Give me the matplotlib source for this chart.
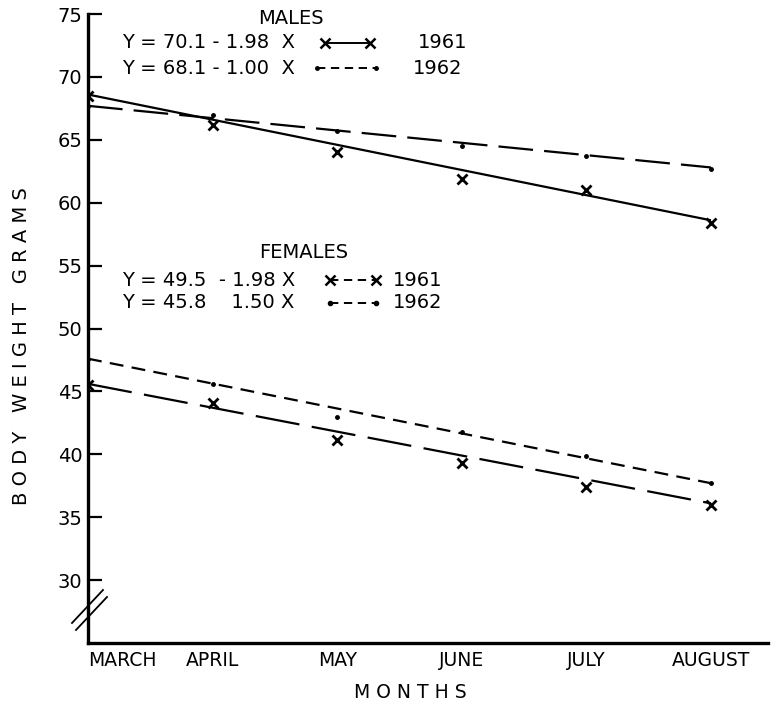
import matplotlib
matplotlib.use("Agg")
import matplotlib.pyplot as plt
from matplotlib.lines import Line2D

plt.rcParams['font.family'] = ['DejaVu Sans']
plt.rcParams['lines.scale_dashes'] = False

# ---- data ----
months = ['MARCH', 'APRIL', 'MAY', 'JUNE', 'JULY', 'AUGUST']
males_1961 = [68.5, 66.2, 64.0, 61.9, 61.0, 58.4]
males_1962 = [67.7, 67.0, 65.7, 64.5, 63.7, 62.7]
females_1961 = [45.5, 44.1, 41.1, 39.3, 37.4, 36.0]
females_1962 = [47.6, 45.6, 43.0, 41.8, 39.9, 37.7]

# fitted lines: values at March and August as drawn
males_1961_fit = [68.6, 58.6]
males_1962_fit = [67.7, 62.8]
females_1961_fit = [45.6, 36.1]
females_1962_fit = [47.6, 37.7]

yticks = [30, 35, 40, 45, 50, 55, 60, 65, 70, 75]

males_title = 'MALES'
males_eq = ['Y = 70.1 - 1.98  X', 'Y = 68.1 - 1.00  X']
females_title = 'FEMALES'
females_eq = ['Y = 49.5  - 1.98 X', 'Y = 45.8    1.50 X']
years = ['1961', '1962']

W, H = 778, 712
fig = plt.figure(figsize=(W / 100, H / 100), dpi=100)


def fx(px):
    return px / W


def fy(py):
    return 1 - py / H


ax = fig.add_axes([fx(88), fy(643), fx(768) - fx(88), fy(14) - fy(643)])
x = list(range(len(months)))
xe = [x[0], x[-1]]

lw = 1.6
# males 1961: solid, x markers
ax.plot(xe, males_1961_fit, color='black', lw=lw, solid_capstyle='butt')
ax.plot(x, males_1961, ls='none', marker='x', ms=7, mew=2, color='black')
# males 1962: long dashes, dots
ax.plot(xe, males_1962_fit, color='black', lw=lw, dashes=(25, 8))
ax.plot(x, males_1962, ls='none', marker='o', ms=2.5, color='black')
# females 1961: long broken line, x markers
ax.plot(xe, females_1961_fit, color='black', lw=lw, dashes=(32, 9))
ax.plot(x, females_1961, ls='none', marker='x', ms=7, mew=2, color='black')
# females 1962: short dashes, dots
ax.plot(xe, females_1962_fit, color='black', lw=lw, dashes=(10, 6))
ax.plot(x, females_1962, ls='none', marker='o', ms=2.5, color='black')

ax.set_xlim(0, (768 - 88) / 124.6)
ax.set_ylim(25, 75)
ax.set_yticks(yticks)
ax.set_yticklabels([str(t) for t in yticks], fontsize=14)
ax.tick_params(axis='y', direction='in', length=10, width=1.6, pad=4)
ax.set_xticks(x)
ax.set_xticklabels(months, fontsize=13.5)
ax.tick_params(axis='x', length=0, pad=6)
ax.get_xticklabels()[0].set_horizontalalignment('left')
for s in ['top', 'right']:
    ax.spines[s].set_visible(False)
for s in ['left', 'bottom']:
    ax.spines[s].set_linewidth(2.4)

# axis break marks
fig.add_artist(Line2D([fx(72), fx(103)], [fy(623), fy(590)], color='black', lw=1.3))
fig.add_artist(Line2D([fx(76), fx(107)], [fy(630), fy(597)], color='black', lw=1.3))

# axis titles
fig.text(fx(22), fy(346), 'B O D Y   W E I G H T   G R A M S', rotation=90,
         ha='center', va='center', fontsize=14)
fig.text(fx(410), fy(692), 'M O N T H S', ha='center', va='center', fontsize=13.5)

# legend blocks
fs = 14
fig.text(fx(291), fy(18), males_title, ha='center', va='center', fontsize=fs)
fig.text(fx(122), fy(43), males_eq[0], ha='left', va='center', fontsize=fs)
fig.text(fx(122), fy(68), males_eq[1], ha='left', va='center', fontsize=fs)
fig.text(fx(418), fy(43), years[0], ha='left', va='center', fontsize=fs)
fig.text(fx(413), fy(68), years[1], ha='left', va='center', fontsize=fs)
fig.add_artist(Line2D([fx(325), fx(370)], [fy(43), fy(43)], color='black', lw=1.4,
                      marker='x', ms=7, mew=1.8))
fig.add_artist(Line2D([fx(317), fx(376)], [fy(68), fy(68)], color='black', lw=1.4,
                      dashes=(6, 4), marker='o', ms=2.5))

fig.text(fx(304), fy(253), females_title, ha='center', va='center', fontsize=fs)
fig.text(fx(122), fy(280), females_eq[0], ha='left', va='center', fontsize=fs)
fig.text(fx(122), fy(303), females_eq[1], ha='left', va='center', fontsize=fs)
fig.text(fx(393), fy(280), years[0], ha='left', va='center', fontsize=fs)
fig.text(fx(393), fy(303), years[1], ha='left', va='center', fontsize=fs)
fig.add_artist(Line2D([fx(330), fx(376)], [fy(280), fy(280)], color='black', lw=1.4,
                      dashes=(6, 4), marker='x', ms=7, mew=1.8))
fig.add_artist(Line2D([fx(330), fx(376)], [fy(303), fy(303)], color='black', lw=1.4,
                      dashes=(6, 4), marker='o', ms=3))

fig.savefig('out.png', dpi=100)
